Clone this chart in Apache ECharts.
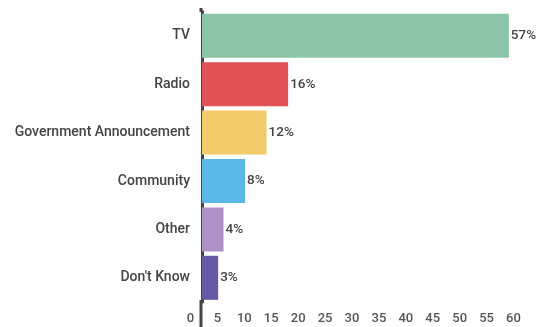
<!DOCTYPE html>
<html><head><meta charset="utf-8">
<script src="https://cdn.jsdelivr.net/npm/echarts@6/dist/echarts.min.js"></script>
<style>html,body{margin:0;padding:0;background:#fff}#c{width:539px;height:327px}</style>
</head><body><div id="c"></div>
<script>
const categories = ['TV', 'Radio', 'Government Announcement', 'Community', 'Other', "Don't Know"];
const values = [57, 16, 12, 8, 4, 3];
const colors = ['#8cc4a7', '#e05256', '#f2cc6b', '#5db7e6', '#ae92c6', '#6558a5'];
const xTicks = [0, 5, 10, 15, 20, 25, 30, 35, 40, 45, 50, 55, 60];

const chart = echarts.init(document.getElementById('c'), null, {renderer: 'canvas'});
chart.setOption({
  animation: false,
  textStyle: {fontFamily: 'Roboto'},
  grid: {left: 202, right: 14, top: 11.6, bottom: 25, containLabel: false},
  xAxis: {
    type: 'value', min: xTicks[0], max: xTicks[xTicks.length - 1], interval: 5,
    axisLine: {show: false}, axisTick: {show: false}, splitLine: {show: false},
    axisLabel: {color: '#555', fontSize: 13, fontWeight: 500, margin: 10, padding: [0, 23, 0, 0]}
  },
  yAxis: {
    type: 'category', data: categories, inverse: true,
    axisLine: {show: true, lineStyle: {color: '#444', width: 3}},
    axisTick: {show: false},
    axisLabel: {color: '#444', fontSize: 14, fontWeight: 500, margin: 12}
  },
  series: [{
    type: 'bar', barCategoryGap: '9%',
    data: values.map((v, i) => ({value: v, itemStyle: {color: colors[i]}})),
    label: {show: true, position: 'right', distance: 2, formatter: '{c}%', color: '#444', fontSize: 13.5, fontWeight: 500}
  }],
  graphic: [
    {type: 'rect', left: 199.5, top: 8, shape: {width: 3, height: 4}, style: {fill: '#444'}, silent: true},
    {type: 'rect', left: 199.5, top: 300, shape: {width: 3, height: 27}, style: {fill: '#444'}, silent: true}
  ]
});
</script></body></html>
